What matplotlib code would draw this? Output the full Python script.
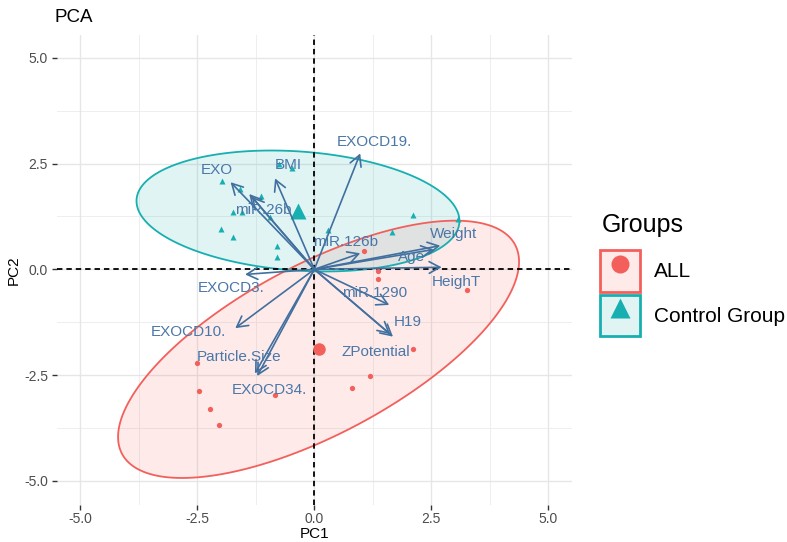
import numpy as np
import matplotlib
matplotlib.use("Agg")
import matplotlib.pyplot as plt
from matplotlib.lines import Line2D
from matplotlib.patches import Rectangle, Polygon
from matplotlib.legend_handler import HandlerTuple
from matplotlib.colors import to_rgba

plt.rcParams["font.family"] = ["Liberation Sans", "DejaVu Sans"]

# ---- individuals (PC scores) ----
all_pc1 = [1.07, 1.35, 1.37, 3.27, -2.50, -2.47, -2.24, -2.03, -0.84, 2.10, 1.19, 0.80]
all_pc2 = [0.43, -0.04, -0.22, -0.49, -2.22, -2.88, -3.29, -3.68, -2.97, -1.88, -2.52, -2.81]

ctrl_pc1 = [-1.98, -1.59, -1.14, -1.73, -1.55, -0.95, -1.99, -1.74, -0.79, -0.79,
            -0.75, -0.48, 0.30, 2.10, 1.65, 3.06]
ctrl_pc2 = [2.09, 1.89, 1.73, 1.36, 1.35, 1.24, 0.95, 0.76, 0.55, 0.30,
            2.49, 2.39, 0.92, 1.28, 0.89, 1.18]

group_names = ["ALL", "Control Group"]
centroid_pc1 = [0.09, -0.35]
centroid_pc2 = [-1.89, 1.38]

# ---- variables (loadings, scaled) ----
var_names = ["EXO", "miR.26b", "", "BMI", "EXOCD19.", "miR.126b", "Weight", "Age",
             "HeighT", "EXOCD3.", "EXOCD10.", "Particle.Size", "EXOCD34.",
             "miR.1290", "H19", "ZPotential"]
var_pc1 = [-1.79, -1.39, -1.34, -0.84, 0.98, 0.98, 2.69, 2.55,
           2.72, -1.48, -1.69, -1.27, -1.22, 1.60, 1.68, 1.62]
var_pc2 = [2.06, 1.78, 1.72, 2.15, 2.74, 0.38, 0.56, 0.47,
           0.05, -0.12, -1.39, -2.46, -2.52, -0.84, -1.59, -1.53]

# label placement (repelled positions)
label_xy = {
    "EXO": (-2.09, 2.35), "miR.26b": (-1.09, 1.40), "BMI": (-0.56, 2.47),
    "EXOCD19.": (1.28, 3.02), "miR.126b": (0.66, 0.65), "Weight": (2.98, 0.83),
    "Age": (2.08, 0.30), "HeighT": (3.03, -0.29), "EXOCD3.": (-1.78, -0.45),
    "EXOCD10.": (-2.70, -1.49), "Particle.Size": (-1.61, -2.07),
    "EXOCD34.": (-0.96, -2.85), "miR.1290": (1.28, -0.57), "H19": (1.99, -1.25),
    "ZPotential": (1.32, -1.95),
}

RED = "#F3605C"
TEAL = "#17AFB0"
ARROW = "#41709F"
LABEL = "#4A77A8"

W, H = 787, 542
fig = plt.figure(figsize=(W / 100, H / 100), dpi=100)
ax = fig.add_axes([57 / W, 1 - 505 / H, (571.7 - 57) / W, (505 - 35) / H])
ax.set_xlim(-5.5, 5.5)
ax.set_ylim(-5.57, 5.54)

# grid
for v in [-3.75, -1.25, 1.25, 3.75]:
    ax.axvline(v, color="#EEEEEE", lw=0.7, zorder=0)
    ax.axhline(v, color="#EEEEEE", lw=0.7, zorder=0)
for v in [-5, -2.5, 0, 2.5, 5]:
    ax.axvline(v, color="#E6E6E6", lw=1.0, zorder=0)
    ax.axhline(v, color="#E6E6E6", lw=1.0, zorder=0)

ticks = [-5, -2.5, 0, 2.5, 5]
tick_labels = ["-5.0", "-2.5", "0.0", "2.5", "5.0"]
ax.set_xticks(ticks)
ax.set_xticklabels(tick_labels)
ax.set_yticks(ticks)
ax.set_yticklabels(tick_labels)
ax.tick_params(length=3.5, width=1.0, color="#333333", labelsize=10,
               labelcolor="#4D4D4D")
ax.tick_params(axis="x", pad=1.5)
ax.tick_params(axis="y", pad=3)
for s in ax.spines.values():
    s.set_visible(False)


def norm_ellipse(x, y, center, radius, n=240):
    """Normal-theory ellipse from the sample covariance of (x, y)."""
    cov = np.cov(np.asarray(x), np.asarray(y))
    chol = np.linalg.cholesky(cov)
    t = np.linspace(0, 2 * np.pi, n)
    circ = np.column_stack([np.cos(t), np.sin(t)])
    return np.asarray(center) + radius * circ @ chol.T


groups = [
    (all_pc1, all_pc2, RED, "o", 2.14),
    (ctrl_pc1, ctrl_pc2, TEAL, "^", 2.25),
]
for gi, (gx, gy, col, mk, rad) in enumerate(groups):
    pts = norm_ellipse(gx, gy, (centroid_pc1[gi], centroid_pc2[gi]), rad)
    ax.add_patch(Polygon(pts, closed=True, facecolor=col, alpha=0.13,
                         edgecolor="none", zorder=1))
    ax.add_patch(Polygon(pts, closed=True, facecolor="none", edgecolor=col,
                         lw=1.3, zorder=2))

# reference lines
ax.axhline(0, color="black", lw=1.3, ls=(0, (3, 2.2)), zorder=3)
ax.axvline(0, color="black", lw=1.3, ls=(0, (3, 2.2)), zorder=3)

# individuals and group centroids
for gi, (gx, gy, col, mk, rad) in enumerate(groups):
    ms = 3.8 if mk == "o" else 5.0
    ax.plot(gx, gy, ls="none", marker=mk, ms=ms, color=col, mec="none", zorder=4)
    ax.plot([centroid_pc1[gi]], [centroid_pc2[gi]], ls="none", marker=mk,
            ms=9 if mk == "o" else 11, color=col, mec="none", zorder=4)

# variable arrows
for name, vx, vy in zip(var_names, var_pc1, var_pc2):
    ax.annotate("", xy=(vx, vy), xytext=(0, 0),
                arrowprops=dict(arrowstyle="->,head_length=0.55,head_width=0.3",
                                color=ARROW, lw=1.2, shrinkA=0, shrinkB=0,
                                mutation_scale=14), zorder=5)
for name in var_names:
    if name:
        lx, ly = label_xy[name]
        ax.text(lx, ly, name, ha="center", va="center", fontsize=11,
                color=LABEL, zorder=6)

ax.set_xlabel("PC1", fontsize=11, color="black", labelpad=1)
ax.set_ylabel("PC2", fontsize=11, color="black", labelpad=2)
fig.text(55 / W, 1 - 17 / H, "PCA", fontsize=13.5, ha="left", va="center")

# legend
fig.text(601.5 / W, 1 - 225 / H, "Groups", fontsize=18, ha="left", va="center")
handles = []
for col, mk, ms in [(RED, "o", 13), (TEAL, "^", 15)]:
    box = Rectangle((0, 0), 1, 1, facecolor=to_rgba(col, 0.13), edgecolor=col, lw=2)
    mark = Line2D([], [], ls="none", marker=mk, ms=ms, color=col, mec="none")
    handles.append((box, mark))
leg = fig.legend(handles, group_names, loc="upper left",
                 bbox_to_anchor=(600 / W, 1 - 250 / H), frameon=False,
                 fontsize=15, handlelength=1.92, handleheight=2.7,
                 labelspacing=0.15, handletextpad=0.68, borderpad=0,
                 borderaxespad=0,
                 handler_map={tuple: HandlerTuple(ndivide=1, pad=0)})

fig.savefig("out.png", dpi=100)
